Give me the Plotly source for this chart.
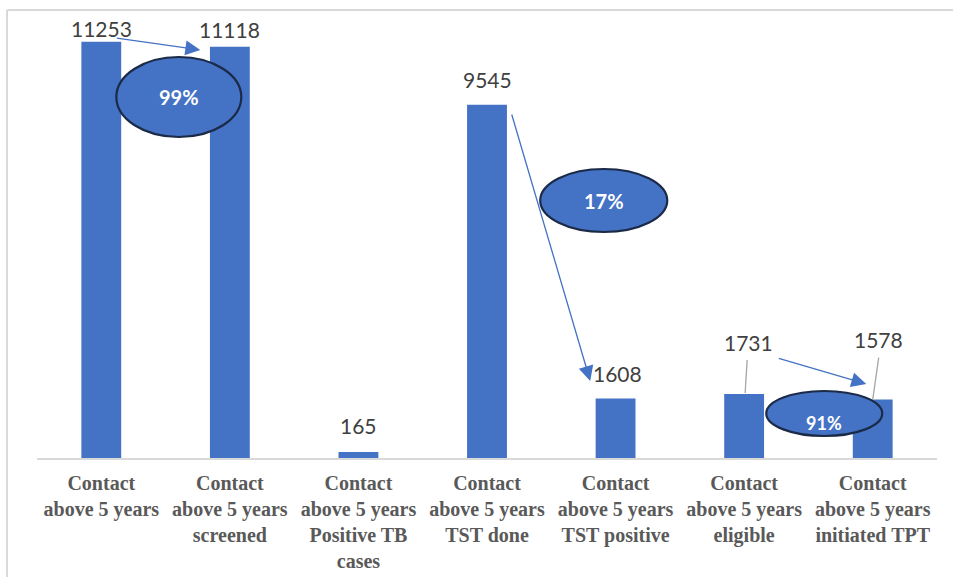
import plotly.graph_objects as go

# Contact cascade counts
categories = [
    "Contact<br>above 5 years",
    "Contact<br>above 5 years<br>screened",
    "Contact<br>above 5 years<br>Positive TB<br>cases",
    "Contact<br>above 5 years<br>TST done",
    "Contact<br>above 5 years<br>TST positive",
    "Contact<br>above 5 years<br>eligible",
    "Contact<br>above 5 years<br>initiated TPT",
]
counts = [11253, 11118, 165, 9545, 1608, 1731, 1578]

# pixel offsets of each value label above its bar (x, y)
label_shift = [(0, 13), (0, 17), (0, 26), (0, 25), (2, 25), (4, 51), (6, 60)]

# percentage callouts between steps
pct_labels = ["99%", "17%", "91%"]

BLUE = "#4472C4"
NAVY = "#1b2a47"
x_idx = list(range(len(categories)))

fig = go.Figure()
fig.add_trace(go.Bar(
    x=x_idx, y=counts, marker=dict(color=BLUE, line=dict(width=0)),
    hoverinfo="skip", showlegend=False,
))

annotations = []
for i, (v, (dx, dy)) in enumerate(zip(counts, label_shift)):
    annotations.append(dict(
        x=i, y=v, xref="x", yref="y", text=str(v), showarrow=False,
        xshift=dx, yshift=dy, yanchor="middle",
        font=dict(family="Lato", size=21, color="#404040"),
    ))

shapes = []
# leader lines for the two right-hand labels
shapes.append(dict(type="line", xref="x", yref="y", xsizemode="pixel", ysizemode="pixel",
                   xanchor=5, yanchor=counts[5], x0=3, y0=34, x1=1, y1=1,
                   line=dict(color="#a6a6a6", width=1.3)))
shapes.append(dict(type="line", xref="x", yref="y", xsizemode="pixel", ysizemode="pixel",
                   xanchor=6, yanchor=counts[6], x0=6, y0=42, x1=0, y1=0,
                   line=dict(color="#a6a6a6", width=1.3)))

# ellipses with percentage text
ellipses = [
    (0.117, 1.089, 8676, 10838, pct_labels[0], 0.603, 9757, 20),
    (3.414, 4.402, 6108, 7811, pct_labels[1], 3.908, 6959, 20),
    (5.172, 6.074, 595, 1811, pct_labels[2], 5.623, 946, 18),
]
for x0, x1, y0, y1, txt, tx, ty, fs in ellipses:
    shapes.append(dict(type="circle", xref="x", yref="y", x0=x0, x1=x1, y0=y0, y1=y1,
                       fillcolor=BLUE, line=dict(color=NAVY, width=2.2), layer="above"))
    annotations.append(dict(x=tx, y=ty, xref="x", yref="y", text=f"<b>{txt}</b>",
                            showarrow=False, font=dict(family="Lato", size=fs, color="white")))

# connecting arrows (tail -> head)
arrows = [
    (0.109, 11351, 0.770, 11027),
    (3.189, 9324, 3.803, 2081),
    (5.258, 2703, 5.950, 2000),
]
for ax, ay, hx, hy in arrows:
    annotations.append(dict(x=hx, y=hy, ax=ax, ay=ay, xref="x", yref="y",
                            axref="x", ayref="y", text="", showarrow=True,
                            arrowhead=2, arrowsize=2.3, arrowwidth=1.3,
                            arrowcolor=BLUE, standoff=0, startstandoff=0))

# outer frame lines (top and left)
shapes.append(dict(type="line", xref="paper", yref="paper", x0=-0.0333, x1=1.03,
                   y0=1.009, y1=1.009, line=dict(color="#d9d9d9", width=2)))
shapes.append(dict(type="line", xref="paper", yref="paper", x0=-0.0333, x1=-0.0333,
                   y0=1.009, y1=-0.3, line=dict(color="#d9d9d9", width=2)))

fig.update_layout(
    width=953, height=577,
    margin=dict(l=37, r=16, t=14, b=119, autoexpand=False),
    paper_bgcolor="white", plot_bgcolor="white",
    bargap=0.69,
    shapes=shapes, annotations=annotations,
    xaxis=dict(tickmode="array", tickvals=x_idx, ticktext=categories,
               range=[-0.5, 6.5], showgrid=False, zeroline=False, automargin=False,
               showline=True, linecolor="#d9d9d9", linewidth=1.5,
               tickfont=dict(family="Liberation Serif", size=20, color="#595959",
                             weight="bold"),
               ticks="", tickangle=0, ticklabelstandoff=6),
    yaxis=dict(range=[0, 12000], visible=False, showgrid=False, zeroline=False),
)

fig.write_html("out.html")
